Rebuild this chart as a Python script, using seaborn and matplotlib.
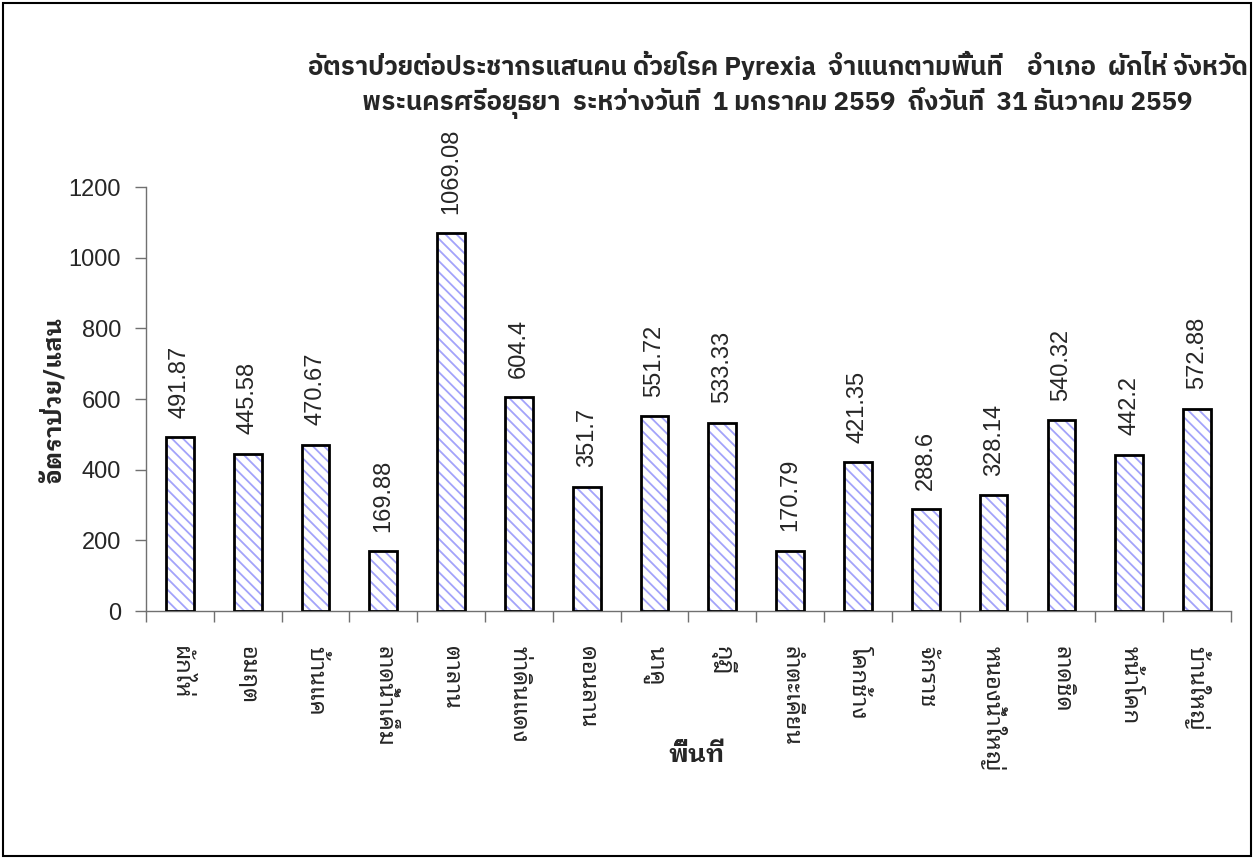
import numpy as np
import pandas as pd
import matplotlib
matplotlib.use('Agg')
import matplotlib.pyplot as plt
from matplotlib import font_manager
from matplotlib.patches import Rectangle
import seaborn as sns

areas = ['ผักไห่', 'อมฤต', 'บ้านแค', 'ลาดน้ำเค็ม', 'ตาลาน', 'ท่าดินแดง', 'ดอนลาน', 'นาคู',
         'กุฎี', 'ลำตะเคียน', 'โคกช้าง', 'จักราช', 'หนองน้ำใหญ่', 'ลาดชิด', 'หน้าโคก', 'บ้านใหญ่']
rates = [491.87, 445.58, 470.67, 169.88, 1069.08, 604.4, 351.7, 551.72,
         533.33, 170.79, 421.35, 288.6, 328.14, 540.32, 442.2, 572.88]
rate_labels = ['491.87', '445.58', '470.67', '169.88', '1069.08', '604.4', '351.7', '551.72',
               '533.33', '170.79', '421.35', '288.6', '328.14', '540.32', '442.2', '572.88']
y_ticks = [0, 200, 400, 600, 800, 1000, 1200]

title = ('อัตราป่วยต่อประชากรแสนคน ด้วยโรค Pyrexia  จำแนกตามพื้นที่    อำเภอ  ผักไห่ จังหวัด\n'
         'พระนครศรีอยุธยา  ระหว่างวันที่  1 มกราคม 2559  ถึงวันที่  31 ธันวาคม 2559')

df = pd.DataFrame({'area': areas, 'rate': rates})


def weight_num(w):
    if isinstance(w, str):
        return font_manager.weight_dict.get(w, 400)
    return w


def pick_font(prefs, bold=False):
    for fam in prefs:
        entries = [f for f in font_manager.fontManager.ttflist if f.name == fam]
        if not entries:
            continue
        if bold and not any(weight_num(f.weight) >= 600 for f in entries):
            continue
        return fam
    return 'DejaVu Sans'


title_font = pick_font(['IBM Plex Sans Thai', 'Noto Sans Thai', 'Anuphan', 'Bai Jamjuree'], bold=True)
loop_font = pick_font(['Noto Sans Thai Looped', 'IBM Plex Sans Thai Looped', 'Sarabun',
                       'Thasadith', 'Niramit', 'Noto Sans Thai'])
loop_bold = pick_font(['Noto Sans Thai Looped', 'IBM Plex Sans Thai Looped', 'Sarabun',
                       'Thasadith', 'Niramit', 'Noto Sans Thai'], bold=True)
num_font = pick_font(['Liberation Sans', 'Arial'])

sns.set_style('white')
plt.rcParams['font.family'] = [num_font, loop_font, 'DejaVu Sans']
plt.rcParams['hatch.linewidth'] = 1.3

fig = plt.figure(figsize=(12.54, 8.59), dpi=100)
ax = fig.add_axes([0.1164, 0.2887, 0.8652, 0.4936])

sns.barplot(data=df, x='area', y='rate', ax=ax, width=0.41, color='white',
            edgecolor='#a3a3fa', linewidth=0, saturation=1)
for p in list(ax.patches):
    p.set_hatch('\\\\\\')
    ax.add_patch(Rectangle(p.get_xy(), p.get_width(), p.get_height(),
                           fill=False, edgecolor='black', linewidth=2, zorder=3))

for i, (v, lab) in enumerate(zip(rates, rate_labels)):
    ax.annotate(lab, (i, v), xytext=(0, 14), textcoords='offset points',
                rotation=90, ha='center', va='bottom', fontsize=17,
                family=[num_font], clip_on=False)

axis_grey = '#707070'
ax.set_ylim(0, 1200)
ax.set_yticks(y_ticks)
ax.set_xlim(-0.5, len(areas) - 0.5)
ax.tick_params(axis='y', direction='out', length=8, width=1, labelsize=17, pad=10,
               left=True, color=axis_grey)
ax.set_xticks(np.arange(-0.5, len(areas), 1), minor=True)
ax.tick_params(axis='x', which='minor', direction='out', length=8, width=1,
               bottom=True, color=axis_grey)
ax.tick_params(axis='x', which='major', length=0, pad=25)
ax.set_xticklabels(areas, rotation=-90, fontsize=17, family=[loop_font], va='top')

for s in ['top', 'right']:
    ax.spines[s].set_visible(False)
for s in ['left', 'bottom']:
    ax.spines[s].set_color(axis_grey)
    ax.spines[s].set_linewidth(1)

ax.set_xlabel('พื้นที่', fontsize=18, fontweight='bold', family=[loop_bold])
ax.xaxis.set_label_coords(0.507, -0.312)
ax.set_ylabel('อัตราป่วย/แสน', fontsize=17.5, fontweight='bold', family=[loop_bold])
ax.yaxis.set_label_coords(-0.073, 0.5)

fig.text(0.620, 0.9016, title, ha='center', va='center', fontsize=18.5, fontweight='bold',
         family=[title_font, num_font], linespacing=1.3)

fig.patches.append(Rectangle((0.002, 0.003), 0.996, 0.994, transform=fig.transFigure,
                             fill=False, edgecolor='black', linewidth=1.5))

fig.savefig('out.png', dpi=100)
